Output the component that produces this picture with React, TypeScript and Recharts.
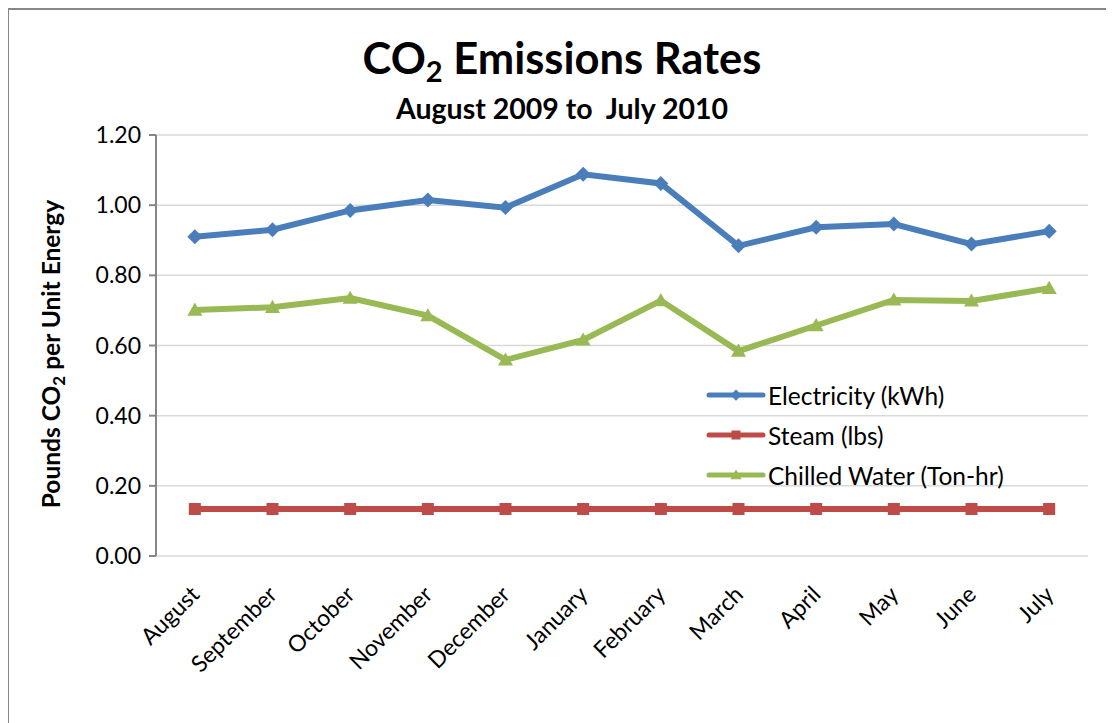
import { LineChart, Line, XAxis, YAxis, CartesianGrid } from "recharts";

const months = [
  "August",
  "September",
  "October",
  "November",
  "December",
  "January",
  "February",
  "March",
  "April",
  "May",
  "June",
  "July",
];
const electricity = [0.91, 0.93, 0.985, 1.015, 0.993, 1.088, 1.062, 0.884, 0.937, 0.946, 0.889, 0.926];
const steam = [0.134, 0.134, 0.134, 0.134, 0.134, 0.134, 0.134, 0.134, 0.134, 0.134, 0.134, 0.134];
const chilledWater = [0.701, 0.709, 0.735, 0.685, 0.559, 0.616, 0.728, 0.584, 0.657, 0.73, 0.727, 0.763];
const yTicks = [0, 0.2, 0.4, 0.6, 0.8, 1.0, 1.2];
const boundaryTicks = [0, 1, 2, 3, 4, 5, 6, 7, 8, 9, 10, 11, 12];

const data = months.map((m, i) => ({
  month: m,
  electricity: electricity[i],
  steam: steam[i],
  chilled: chilledWater[i],
}));

const FONT = "Lato, 'Open Sans', sans-serif";
const BLUE = "#4a7ebb";
const RED = "#be4b48";
const GREEN = "#98b954";
const AXIS = "#868686";

const series = [
  { key: "electricity", name: "Electricity (kWh)", color: BLUE, shape: "diamond" },
  { key: "steam", name: "Steam (lbs)", color: RED, shape: "square" },
  { key: "chilled", name: "Chilled Water (Ton-hr)", color: GREEN, shape: "triangle" },
];

function Marker({ cx, cy, shape, color, s = 1 }: any) {
  if (cx == null || cy == null) return null;
  if (shape === "diamond") {
    const r = 7.5 * s;
    return <path d={`M${cx},${cy - r}L${cx + r},${cy}L${cx},${cy + r}L${cx - r},${cy}Z`} fill={color} />;
  }
  if (shape === "square") {
    const r = 6 * s;
    return <rect x={cx - r} y={cy - r} width={2 * r} height={2 * r} fill={color} />;
  }
  const r = 7.5 * s;
  return <path d={`M${cx},${cy - r}L${cx + r},${cy + r * 0.75}L${cx - r},${cy + r * 0.75}Z`} fill={color} />;
}

function MonthTick({ x, y, payload }: any) {
  return (
    <g transform={`translate(${x + 6},${y + 32})`}>
      <text
        textAnchor="end"
        transform="rotate(-45)"
        fontFamily={FONT}
        fontSize={23}
        fill="#000"
      >
        {payload.value}
      </text>
    </g>
  );
}

function LegendBox() {
  return (
    <div
      style={{
        position: "absolute",
        left: 697,
        top: 365,
        fontFamily: FONT,
        fontSize: 24.5,
        color: "#000",
      }}
    >
      {series.map((s) => (
        <div key={s.key} style={{ display: "flex", alignItems: "center", height: 40 }}>
          <svg width={60} height={16} style={{ marginRight: 2 }}>
            <line x1={3} y1={8} x2={57} y2={8} stroke={s.color} strokeWidth={5} strokeLinecap="round" />
            <Marker cx={30} cy={8} shape={s.shape} color={s.color} s={0.75} />
          </svg>
          <span>{s.name}</span>
        </div>
      ))}
    </div>
  );
}

export default function App() {
  return (
    <div
      style={{
        position: "relative",
        width: 1110,
        height: 730,
        border: `2px solid ${AXIS}`,
        marginLeft: -1,
        boxSizing: "border-box",
        background: "#fff",
      }}
    >
      <div
        style={{
          position: "absolute",
          left: 0,
          right: 0,
          top: 22,
          textAlign: "center",
          fontFamily: FONT,
          fontWeight: 700,
          fontSize: 43.5,
          lineHeight: "50px",
        }}
      >
        CO<sub style={{ fontSize: 29, verticalAlign: -8 }}>2</sub> Emissions Rates
      </div>
      <div
        style={{
          position: "absolute",
          left: 0,
          right: 0,
          top: 82,
          textAlign: "center",
          fontFamily: FONT,
          fontWeight: 700,
          fontSize: 28.5,
          lineHeight: "32px",
          whiteSpace: "pre",
        }}
      >
        {"August 2009 to  July 2010"}
      </div>
      <div
        style={{
          position: "absolute",
          left: 46 - 200,
          top: 326,
          width: 400,
          textAlign: "center",
          transform: "rotate(-90deg)",
          fontFamily: FONT,
          fontWeight: 700,
          fontSize: 24.5,
          lineHeight: "28px",
        }}
      >
        Pounds CO<sub style={{ fontSize: 17, verticalAlign: -5 }}>2</sub> per Unit Energy
      </div>
      <LineChart
        width={1106}
        height={710}
        data={data}
        margin={{ top: 125, right: 27, bottom: 0, left: 0 }}
      >
        <CartesianGrid vertical={false} stroke="#d9d9d9" strokeWidth={1.5} xAxisId="cat" />
        <XAxis
          xAxisId="bounds"
          type="number"
          domain={[0, 12]}
          ticks={boundaryTicks}
          tick={false}
          tickSize={7}
          height={0}
          allowDataOverflow
          stroke={AXIS}
          strokeWidth={2}
        />
        <XAxis
          xAxisId="cat"
          dataKey="month"
          scale="band"
          interval={0}
          axisLine={false}
          tickLine={false}
          height={164}
          tick={<MonthTick />}
        />
        <YAxis
          domain={[0, 1.2]}
          ticks={yTicks}
          width={147}
          tickSize={7}
          tickMargin={8}
          tickFormatter={(v: number) => v.toFixed(2)}
          stroke={AXIS}
          strokeWidth={2}
          tick={{ fill: "#000", fontFamily: FONT, fontSize: 23 }}
        />
        {series.map((s) => (
          <Line
            key={s.key}
            xAxisId="cat"
            dataKey={s.key}
            name={s.name}
            stroke={s.color}
            strokeWidth={6}
            isAnimationActive={false}
            dot={(p: any) => <Marker key={`${s.key}-${p.index}`} cx={p.cx} cy={p.cy} shape={s.shape} color={s.color} />}
            activeDot={false}
          />
        ))}
      </LineChart>
      <LegendBox />
    </div>
  );
}
